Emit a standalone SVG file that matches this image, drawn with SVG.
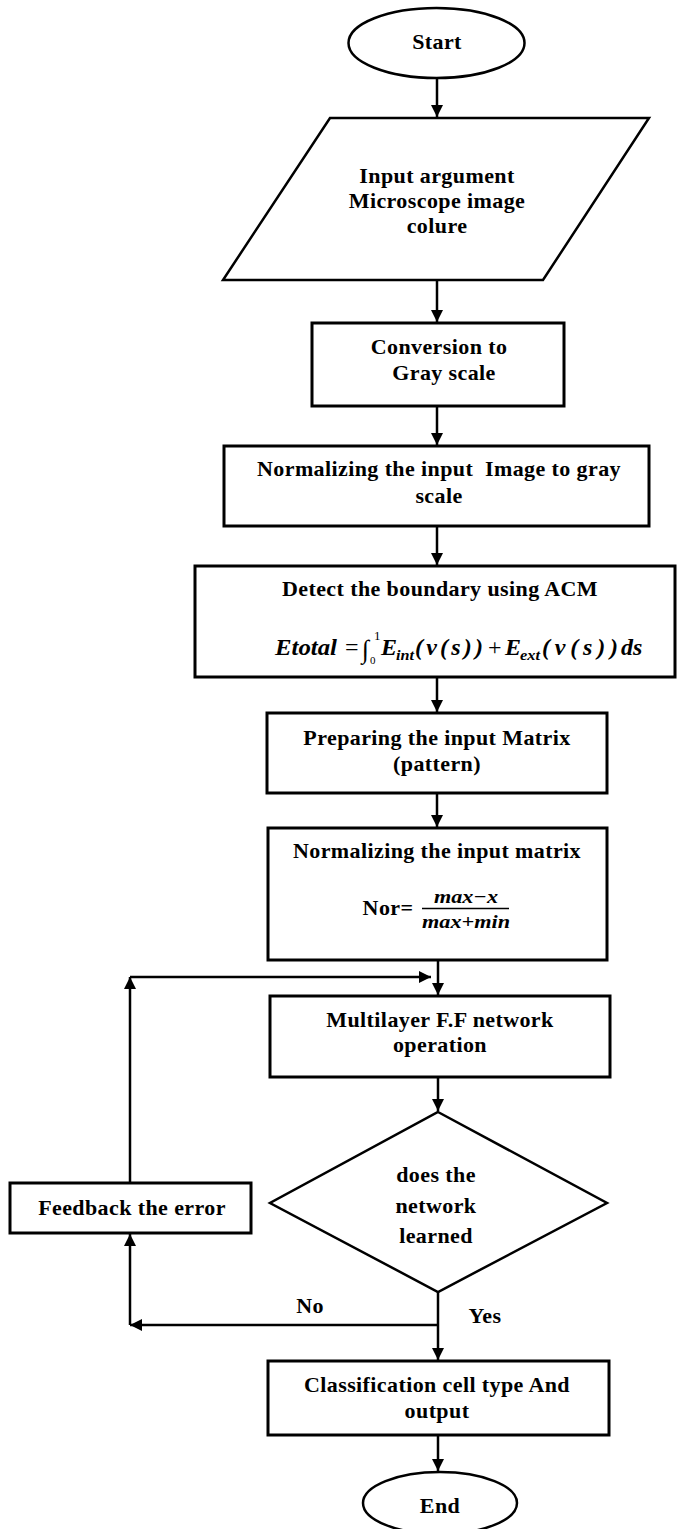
<svg xmlns="http://www.w3.org/2000/svg" width="677" height="1529" viewBox="0 0 677 1529">
<style>
.bg{fill:#ffffff}
.shape{fill:#ffffff;stroke:#000000;stroke-width:3}
.thin{fill:#ffffff;stroke:#000000;stroke-width:2.5}
.edge{fill:none;stroke:#000000;stroke-width:2.5}
.t{font-family:"Liberation Serif","Times New Roman",serif;font-weight:bold;font-size:22px;letter-spacing:0.4px;fill:#000000;text-anchor:middle}
.m{font-family:"Liberation Serif","Times New Roman",serif;font-weight:bold;font-style:italic;font-size:24px;fill:#000000}
.mu{font-family:"Liberation Serif","Times New Roman",serif;font-size:24px;fill:#000000}
.f{font-family:"Liberation Serif","Times New Roman",serif;font-style:italic;font-weight:bold;font-size:19px;fill:#000000}
</style>
<defs>
<marker id="arr" viewBox="0 0 10 10" refX="10" refY="5" markerWidth="12" markerHeight="12" markerUnits="userSpaceOnUse" orient="auto">
<path d="M0,0 L10,5 L0,10 z" fill="#000000"/>
</marker>
</defs>
<rect class="bg" x="0" y="0" width="677" height="1529"/>

<g id="connectors">
<line class="edge" x1="437" y1="78" x2="437" y2="117" marker-end="url(#arr)"/>
<line class="edge" x1="437" y1="280" x2="437" y2="322" marker-end="url(#arr)"/>
<line class="edge" x1="437" y1="406" x2="437" y2="445" marker-end="url(#arr)"/>
<line class="edge" x1="437" y1="526" x2="437" y2="565" marker-end="url(#arr)"/>
<line class="edge" x1="437" y1="677" x2="437" y2="712" marker-end="url(#arr)"/>
<line class="edge" x1="437" y1="793" x2="437" y2="827" marker-end="url(#arr)"/>
<line class="edge" x1="438" y1="960" x2="438" y2="995" marker-end="url(#arr)"/>
<line class="edge" x1="438" y1="1077" x2="438" y2="1111" marker-end="url(#arr)"/>
<line class="edge" x1="438" y1="1292" x2="438" y2="1360" marker-end="url(#arr)"/>
<line class="edge" x1="438" y1="1435" x2="438" y2="1471" marker-end="url(#arr)"/>
<line class="edge" x1="438" y1="1325" x2="130" y2="1325" marker-end="url(#arr)"/>
<line class="edge" x1="130" y1="1325" x2="130" y2="1234" marker-end="url(#arr)"/>
<line class="edge" x1="130" y1="1183" x2="130" y2="977" marker-end="url(#arr)"/>
<line class="edge" x1="130" y1="977" x2="431" y2="977" marker-end="url(#arr)"/>
<text class="t" x="310" y="1313">No</text>
<text class="t" x="485" y="1323">Yes</text>
</g>

<g id="start">
<ellipse class="thin" cx="436.5" cy="43" rx="88" ry="35"/>
<text class="t" x="437" y="49">Start</text>
</g>

<g id="input">
<polygon class="thin" points="330,118 649,118 543,280 223,280"/>
<text class="t" x="437" y="183">Input argument</text>
<text class="t" x="437" y="208">Microscope image</text>
<text class="t" x="437" y="233">colure</text>
</g>

<g id="conversion">
<rect class="shape" x="312" y="323" width="252" height="83"/>
<text class="t" x="439" y="354">Conversion to</text>
<text class="t" x="444" y="380">Gray scale</text>
</g>

<g id="normalize-image">
<rect class="shape" x="224" y="446" width="425" height="80"/>
<text class="t" x="439" y="476">Normalizing the input&#160; Image to gray</text>
<text class="t" x="439" y="503">scale</text>
</g>

<g id="detect">
<rect class="shape" x="195" y="566" width="480" height="111"/>
<text class="t" x="440" y="596">Detect the boundary using ACM</text>
<text class="m" x="275" y="655" textLength="62" lengthAdjust="spacingAndGlyphs">Etotal</text>
<text class="mu" x="345" y="655">=</text>
<text class="mu" x="362" y="658" style="font-size:26px">∫</text>
<text class="mu" x="374" y="640" style="font-size:13px">1</text>
<text class="mu" x="370" y="664" style="font-size:11px">0</text>
<text class="m" x="381" y="655">E</text>
<text class="m" x="396" y="660" style="font-size:15px" textLength="18" lengthAdjust="spacingAndGlyphs">int</text>
<text class="m" x="415" y="655" textLength="68" lengthAdjust="spacing">(v(s))</text>
<text class="mu" x="488" y="655">+</text>
<text class="m" x="505" y="655">E</text>
<text class="m" x="520" y="660" style="font-size:15px" textLength="20" lengthAdjust="spacingAndGlyphs">ext</text>
<text class="m" x="542" y="655" textLength="76" lengthAdjust="spacing">(v(s))</text>
<text class="m" x="621" y="655">ds</text>
</g>

<g id="prepare">
<rect class="shape" x="267" y="713" width="340" height="80"/>
<text class="t" x="437" y="745">Preparing the input Matrix</text>
<text class="t" x="437" y="771">(pattern)</text>
</g>

<g id="normalize-matrix">
<rect class="shape" x="268" y="828" width="339" height="132"/>
<text class="t" x="437" y="858">Normalizing the input matrix</text>
<text class="t" x="388" y="915">Nor=</text>
<text class="f" x="434" y="903" textLength="64" lengthAdjust="spacingAndGlyphs">max−x</text>
<line x1="422" y1="908.5" x2="509" y2="908.5" stroke="#000000" stroke-width="1.5"/>
<text class="f" x="422" y="928" textLength="88" lengthAdjust="spacingAndGlyphs">max+min</text>
</g>

<g id="multilayer">
<rect class="shape" x="270" y="996" width="340" height="81"/>
<text class="t" x="440" y="1027">Multilayer F.F network</text>
<text class="t" x="440" y="1052">operation</text>
</g>

<g id="decision">
<polygon class="thin" points="438,1112 607,1203 438,1292 270,1203"/>
<text class="t" x="436" y="1182">does the</text>
<text class="t" x="436" y="1213">network</text>
<text class="t" x="436" y="1243">learned</text>
</g>

<g id="feedback">
<rect class="shape" x="10" y="1183" width="241" height="50"/>
<text class="t" x="132" y="1215">Feedback the error</text>
</g>

<g id="classify">
<rect class="shape" x="268" y="1361" width="341" height="74"/>
<text class="t" x="437" y="1392">Classification cell type And</text>
<text class="t" x="437" y="1418">output</text>
</g>

<g id="end">
<ellipse class="thin" cx="440" cy="1503" rx="77" ry="31"/>
<text class="t" x="440" y="1513">End</text>
</g>
</svg>
